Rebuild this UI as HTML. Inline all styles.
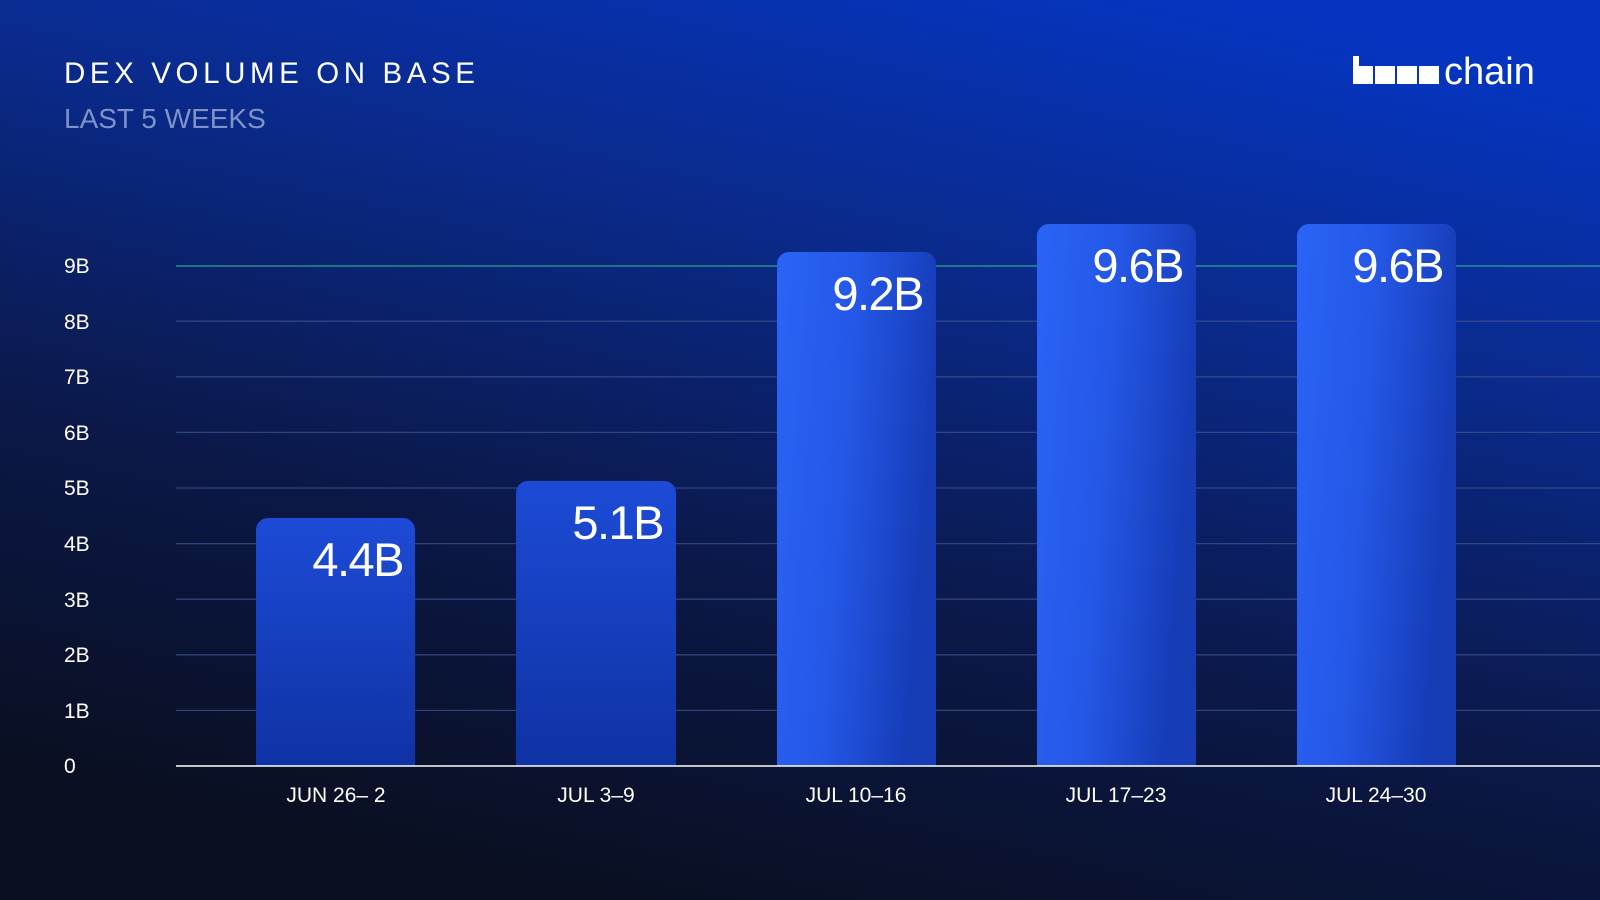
<!DOCTYPE html>
<html><head><meta charset="utf-8"><style>
html,body{margin:0;padding:0;width:1600px;height:900px;overflow:hidden;background:#0a1020}
svg{display:block}
text{font-family:"Liberation Sans",sans-serif}
</style></head><body>
<svg width="1600" height="900" viewBox="0 0 1600 900" xmlns="http://www.w3.org/2000/svg">
<defs>
<linearGradient id="bg" x1="0.75" y1="0" x2="0.35" y2="1">
<stop offset="0" stop-color="#0535c0"/>
<stop offset="0.3" stop-color="#0a2a8c"/>
<stop offset="0.65" stop-color="#0b1848"/>
<stop offset="1" stop-color="#0a0f20"/>
</linearGradient>
<linearGradient id="bar" x1="0" y1="0" x2="1" y2="0.25">
<stop offset="0" stop-color="#2a64f6"/>
<stop offset="0.5" stop-color="#2457e6"/>
<stop offset="1" stop-color="#163cb6"/>
</linearGradient>
<linearGradient id="bar1" x1="0" y1="0" x2="0" y2="1">
<stop offset="0" stop-color="#1d4bd6"/>
<stop offset="1" stop-color="#0f32a4"/>
</linearGradient>
</defs>
<rect width="1600" height="900" fill="url(#bg)"/>
<text x="64" y="83" font-size="29.5" fill="#fff" letter-spacing="4.6">DEX VOLUME ON BASE</text>
<text x="64" y="128" font-size="28" fill="#7f92c8">LAST 5 WEEKS</text>
<g fill="#fff">
<rect x="1353" y="56" width="6" height="28"/>
<rect x="1353" y="66" width="20" height="18"/>
<rect x="1375" y="66" width="20" height="18"/>
<rect x="1397" y="66" width="20" height="18"/>
<rect x="1419" y="66" width="20" height="18"/>
</g>
<text x="1444" y="84" font-size="38" fill="#fff">chain</text>
<g stroke="#3a4f8a" stroke-width="1.3" opacity="0.8">
<line x1="176" x2="1600" y1="710.4" y2="710.4"/>
<line x1="176" x2="1600" y1="654.8" y2="654.8"/>
<line x1="176" x2="1600" y1="599.2" y2="599.2"/>
<line x1="176" x2="1600" y1="543.6" y2="543.6"/>
<line x1="176" x2="1600" y1="488" y2="488"/>
<line x1="176" x2="1600" y1="432.4" y2="432.4"/>
<line x1="176" x2="1600" y1="376.8" y2="376.8"/>
<line x1="176" x2="1600" y1="321.2" y2="321.2"/>
</g>
<line x1="176" x2="1600" y1="266" y2="266" stroke="#2fa58a" stroke-width="1.3"/>
<g font-size="21" fill="#fff">
<text x="64" y="773">0</text>
<text x="64" y="718">1B</text>
<text x="64" y="662">2B</text>
<text x="64" y="607">3B</text>
<text x="64" y="551">4B</text>
<text x="64" y="495">5B</text>
<text x="64" y="440">6B</text>
<text x="64" y="384">7B</text>
<text x="64" y="329">8B</text>
<text x="64" y="273">9B</text>
</g>
<path d="M256 766V530a12 12 0 0 1 12-12h135a12 12 0 0 1 12 12V766Z" fill="url(#bar1)"/>
<path d="M516 766V493a12 12 0 0 1 12-12h136a12 12 0 0 1 12 12V766Z" fill="url(#bar1)"/>
<path d="M777 766V264a12 12 0 0 1 12-12h135a12 12 0 0 1 12 12V766Z" fill="url(#bar)"/>
<path d="M1037 766V236a12 12 0 0 1 12-12h135a12 12 0 0 1 12 12V766Z" fill="url(#bar)"/>
<path d="M1297 766V236a12 12 0 0 1 12-12h135a12 12 0 0 1 12 12V766Z" fill="url(#bar)"/>
<line x1="176" x2="1600" y1="766" y2="766" stroke="#fff" stroke-width="1.5"/>
<g font-size="47" fill="#fff" text-anchor="end" letter-spacing="-1.5">
<text x="403" y="576">4.4B</text>
<text x="663" y="539">5.1B</text>
<text x="923" y="310">9.2B</text>
<text x="1183" y="282">9.6B</text>
<text x="1443" y="282">9.6B</text>
</g>
<g font-size="21" fill="#fff" text-anchor="middle">
<text x="336" y="802">JUN 26– 2</text>
<text x="596" y="802">JUL 3–9</text>
<text x="856" y="802">JUL 10–16</text>
<text x="1116" y="802">JUL 17–23</text>
<text x="1376" y="802">JUL 24–30</text>
</g>
</svg>
</body></html>
